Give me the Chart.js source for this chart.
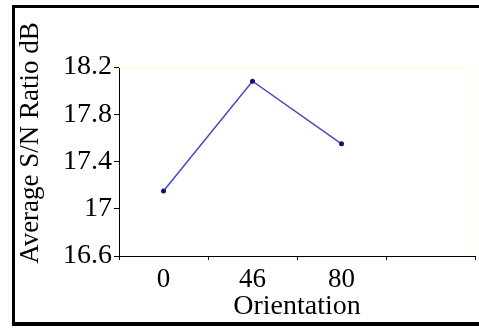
<!DOCTYPE html>
<html>
<head>
<meta charset="utf-8">
<script src="https://cdn.jsdelivr.net/npm/chart.js@4/dist/chart.umd.min.js"></script>
<style>
  html, body { margin: 0; padding: 0; background: #fff; }
  #wrap { position: relative; width: 479px; height: 329px; overflow: hidden; }
  #frame {
    position: absolute; left: 12px; top: 5px; width: 520px; height: 314px;
    border-left: 3px solid #000; border-top: 3px solid #000; border-bottom: 4px solid #000;
  }
  #snChart { position: absolute; left: 0; top: 0; }
</style>
</head>
<body>
<div id="wrap">
  <div id="frame"></div>
  <canvas id="snChart" width="479" height="329"></canvas>
</div>
<script>
// orientation categories (last slot is empty in the original)
const orientations = ['0', '46', '80', ''];
const snRatio = [17.15, 18.08, 17.55, null];
const yTicks = [16.6, 17, 17.4, 17.8, 18.2];

const fontFamily = 'Liberation Serif';

// light yellow edge on top and right of the plot
const plotFrame = {
    id: 'plotFrame',
    beforeDatasetsDraw(chart) {
        const {ctx, chartArea: a} = chart;
        ctx.save();
        ctx.strokeStyle = '#ffffc8';
        ctx.lineWidth = 1;
        ctx.beginPath();
        ctx.moveTo(a.left, a.top + 0.5);
        ctx.lineTo(a.right - 0.5, a.top + 0.5);
        ctx.lineTo(a.right - 0.5, a.bottom);
        ctx.stroke();
        ctx.restore();
    }
};

// y title sits higher than the axis, so draw it by hand
const yTitle = {
    id: 'yTitle',
    afterDraw(chart) {
        const {ctx} = chart;
        ctx.save();
        ctx.translate(31, 143);
        ctx.rotate(-Math.PI / 2);
        ctx.font = '27px ' + fontFamily;
        ctx.fillStyle = '#000';
        ctx.textAlign = 'center';
        ctx.textBaseline = 'middle';
        ctx.fillText('Average S/N Ratio dB', 0, 0);
        ctx.restore();
    }
};

document.addEventListener('DOMContentLoaded', function() {
    let snChart = document.getElementById('snChart');

    new Chart(snChart, {
        type: 'line',
        data: {
            labels: orientations,
            datasets: [{
                data: snRatio,
                borderColor: '#4a4ac4',
                borderWidth: 1.5,
                pointBackgroundColor: '#10107a',
                pointBorderWidth: 0,
                pointRadius: 2.5,
                tension: 0
            }]
        },
        options: {
            responsive: false,
            animation: false,
            layout: { padding: { top: 67, right: 1, left: 0, bottom: 0 } },
            plugins: { legend: { display: false }, tooltip: { enabled: false } },
            scales: {
                x: {
                    offset: true,
                    grid: { offset: true, drawOnChartArea: false, color: '#000', tickLength: 4 },
                    border: { color: '#000', width: 1 },
                    ticks: { color: '#000', font: { family: fontFamily, size: 27 }, padding: 4, maxRotation: 0 },
                    title: { display: true, text: 'Orientation', color: '#000', font: { family: fontFamily, size: 28 }, padding: { bottom: 6 } },
                    afterFit(scale) { scale.height = 73; }
                },
                y: {
                    min: yTicks[0],
                    max: yTicks[yTicks.length - 1],
                    grid: { drawOnChartArea: false, color: '#000', tickLength: 5 },
                    border: { color: '#000', width: 1 },
                    ticks: {
                        stepSize: 0.2,
                        color: '#000',
                        font: { family: fontFamily, size: 28 },
                        padding: 2,
                        callback: function(v) {
                            const hit = yTicks.find(t => Math.abs(t - v) < 1e-6);
                            return hit !== undefined ? String(hit) : '';
                        }
                    },
                    afterFit(scale) { scale.width = 119; }
                }
            }
        },
        plugins: [plotFrame, yTitle]
    });
});
</script>
</body>
</html>
